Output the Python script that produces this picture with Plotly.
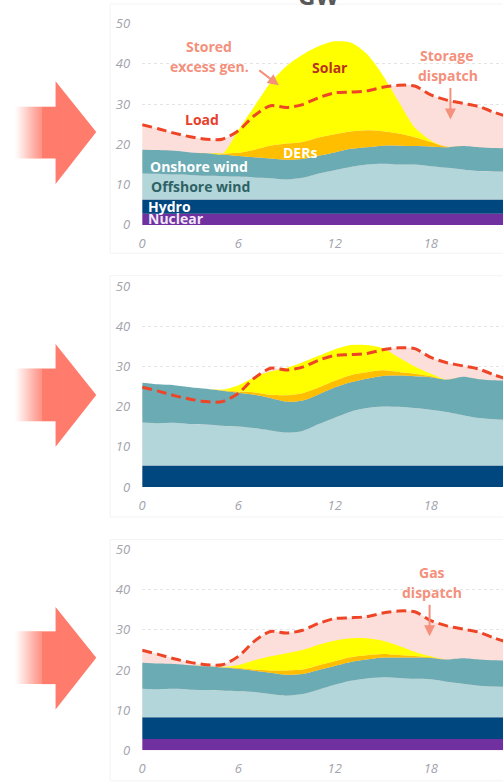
import plotly.graph_objects as go

W, H = 503, 783

hours = list(range(24))
load = [24.9, 23.9, 22.8, 21.9, 21.3, 21.3, 23.4, 27.2, 29.6, 29.2, 29.9, 31.6,
        32.8, 33.0, 33.3, 34.2, 34.7, 34.5, 32.3, 31.0, 30.2, 29.4, 27.9, 26.6]

# Panel 1
nuclear1 = [2.8, 2.8, 2.8, 2.8, 2.8, 2.8, 2.8, 2.8, 2.8, 2.8, 2.8, 2.8,
            2.8, 2.8, 2.8, 2.8, 2.8, 2.8, 2.8, 2.8, 2.8, 2.8, 2.8, 2.8]
hydro1 = [3.5, 3.5, 3.5, 3.5, 3.5, 3.5, 3.5, 3.5, 3.5, 3.5, 3.5, 3.5,
          3.5, 3.5, 3.5, 3.5, 3.5, 3.5, 3.5, 3.5, 3.5, 3.5, 3.5, 3.5]
offshore1 = [6.5, 6.4, 6.2, 6.1, 5.9, 5.8, 5.7, 5.5, 5.3, 5.0, 5.4, 6.5,
             7.3, 8.1, 8.7, 8.9, 8.7, 8.7, 8.3, 7.9, 7.5, 7.1, 7.0, 6.9]
onshore1 = [5.9, 5.9, 5.9, 5.6, 5.6, 5.4, 5.1, 5.0, 4.9, 4.9, 4.7, 4.4,
            4.4, 4.5, 4.3, 4.5, 4.7, 4.6, 4.9, 5.1, 5.8, 5.9, 5.8, 5.8]
der1 = [0, 0, 0, 0, 0, 0.2, 0.8, 1.9, 3.2, 4.0, 4.2, 4.5,
        4.5, 4.3, 4.2, 3.6, 3.0, 2.2, 1.1, 0.1, 0, 0, 0, 0]
solar1 = [0, 0, 0, 0, 0, 0, 5.7, 10.8, 15.6, 19.3, 21.7, 22.7,
          23.1, 22.1, 19.0, 13.9, 7.9, 2.4, 0.4, 0, 0, 0, 0, 0]

# Panel 2
hydro2 = [5.4, 5.4, 5.4, 5.4, 5.4, 5.4, 5.4, 5.4, 5.4, 5.4, 5.4, 5.4,
          5.4, 5.4, 5.4, 5.4, 5.4, 5.4, 5.4, 5.4, 5.4, 5.4, 5.4, 5.4]
offshore2 = [10.7, 10.5, 10.6, 10.3, 10.2, 9.9, 9.7, 9.3, 8.7, 8.2, 8.6, 10.3,
             11.9, 13.4, 14.3, 14.7, 14.6, 14.3, 13.9, 13.3, 12.5, 11.8, 11.5, 11.3]
onshore2 = [9.9, 9.7, 9.4, 9.2, 8.9, 8.7, 8.4, 8.3, 8.1, 7.7, 7.6, 7.4,
            7.5, 7.3, 7.3, 7.6, 7.8, 7.9, 8.1, 8.1, 9.6, 9.7, 9.7, 9.8]
der2 = [0, 0, 0, 0, 0, 0.1, 0.3, 0.6, 0.8, 1.6, 1.8, 1.7,
        1.7, 1.8, 1.6, 1.4, 0.9, 0.65, 0.25, 0, 0, 0, 0, 0]
solar2 = [0, 0, 0, 0, 0, 0.2, 1.6, 3.8, 5.8, 6.8, 7.7, 7.9,
          7.8, 7.5, 6.8, 5.5, 3.6, 1.8, 0.6, 0, 0, 0, 0, 0]

# Panel 3
nuclear3 = [2.8, 2.8, 2.8, 2.8, 2.8, 2.8, 2.8, 2.8, 2.8, 2.8, 2.8, 2.8,
            2.8, 2.8, 2.8, 2.8, 2.8, 2.8, 2.8, 2.8, 2.8, 2.8, 2.8, 2.8]
hydro3 = [5.4, 5.4, 5.4, 5.4, 5.4, 5.4, 5.4, 5.4, 5.4, 5.4, 5.4, 5.4,
          5.4, 5.4, 5.4, 5.4, 5.4, 5.4, 5.4, 5.4, 5.4, 5.4, 5.4, 5.4]
offshore3 = [7.1, 7.0, 7.1, 6.9, 6.8, 6.7, 6.5, 6.3, 5.8, 5.4, 5.8, 6.9,
             8.1, 9.1, 9.7, 10.0, 9.8, 9.6, 9.5, 8.9, 8.4, 7.9, 7.7, 7.6]
onshore3 = [6.5, 6.4, 6.2, 6.1, 5.9, 5.7, 5.6, 5.3, 5.3, 5.2, 5.0, 4.9,
            4.7, 4.7, 4.7, 4.9, 5.1, 5.3, 5.3, 5.5, 6.3, 6.5, 6.5, 6.5]
der3 = [0, 0, 0, 0, 0, 0.1, 0.2, 0.3, 0.6, 1.1, 1.1, 1.2,
        1.2, 1.2, 1.1, 0.9, 0.65, 0.4, 0.15, 0, 0, 0, 0, 0]
solar3 = [0, 0, 0, 0, 0, 0.1, 0.7, 2.3, 3.5, 4.3, 4.9, 5.1,
          5.1, 4.7, 4.2, 3.3, 2.3, 1.0, 0.25, 0, 0, 0, 0, 0]

x_ticks = [0, 6, 12, 18]
y_ticks = [0, 10, 20, 30, 40, 50]

C_NUC = "#7030A0"
C_HYD = "#00467F"
C_OFF = "#B3D6DA"
C_ON = "#6BABB4"
C_DER = "#FFBE00"
C_SOL = "#FFFF00"
C_PINK = "#FCDFDA"
C_LOAD = "#EE4527"
C_SALMON = "#F4907C"
C_ARROW = "#FF7B6B"
FONT = "Open Sans"


def px(x):
    return x / W


def py(y):
    return 1 - y / H


panels = [
    ("1", [("Nuclear", nuclear1, C_NUC), ("Hydro", hydro1, C_HYD),
           ("Offshore wind", offshore1, C_OFF), ("Onshore wind", onshore1, C_ON),
           ("DERs", der1, C_DER), ("Solar", solar1, C_SOL)], (15, 221)),
    ("2", [("Hydro", hydro2, C_HYD),
           ("Offshore wind", offshore2, C_OFF), ("Onshore wind", onshore2, C_ON),
           ("DERs", der2, C_DER), ("Solar", solar2, C_SOL)], (284, 489.3)),
    ("3", [("Nuclear", nuclear3, C_NUC), ("Hydro", hydro3, C_HYD),
           ("Offshore wind", offshore3, C_OFF), ("Onshore wind", onshore3, C_ON),
           ("DERs", der3, C_DER), ("Solar", solar3, C_SOL)], (553.3, 758.7)),
]

fig = go.Figure()
layout_axes = {}
for idx, (k, layers, (ytop, ybot)) in enumerate(panels):
    xa = "x" if k == "1" else "x" + k
    ya = "y" if k == "1" else "y" + k
    fig.add_trace(go.Scatter(x=hours, y=load, xaxis=xa, yaxis=ya, mode="lines",
                             fill="tozeroy", fillcolor=C_PINK,
                             line=dict(width=0, shape="spline", smoothing=0.8),
                             hoverinfo="skip"))
    for name, vals, col in layers:
        fig.add_trace(go.Scatter(x=hours, y=vals, xaxis=xa, yaxis=ya, name=name,
                                 mode="lines", stackgroup="s" + k, fillcolor=col,
                                 line=dict(width=0, color=col, shape="spline", smoothing=0.8)))
    fig.add_trace(go.Scatter(x=hours, y=load, xaxis=xa, yaxis=ya, mode="lines",
                             line=dict(color=C_LOAD, width=3, dash="10px,5px",
                                       shape="spline", smoothing=0.8)))
    xname = "xaxis" if k == "1" else "xaxis" + k
    yname = "yaxis" if k == "1" else "yaxis" + k
    layout_axes[xname] = dict(
        domain=[px(139.3), 1], range=[0, 22.5], anchor=ya,
        tickvals=x_ticks, showgrid=False, zeroline=False, showline=False,
        ticklabelstandoff=9,
        tickfont=dict(family=FONT, size=13, color="#A3A3AD", style="italic"))
    layout_axes[yname] = dict(
        domain=[py(ybot), py(ytop)], range=[0, 50], anchor=xa,
        tickvals=y_ticks, showgrid=True, gridcolor="#E4E4E4", griddash="dot",
        gridwidth=1, zeroline=False, showline=False, ticklabelstandoff=11,
        tickfont=dict(family=FONT, size=13, color="#A3A3AD", style="italic"))

shapes = []
# faint panel frames
for (t, b) in [(-5, 250), (273, 520), (543, 790)]:
    shapes.append(dict(type="rect", xref="paper", yref="paper",
                       x0=px(107), x1=px(510), y0=py(b), y1=py(t),
                       line=dict(color="#F3F3F3", width=1), layer="below"))

# big arrows with faded tails
for (tip_y, head_top, head_bot, sh_top, sh_bot) in [
        (126, 74, 179, 100, 153), (395, 343, 448, 368, 422), (664, 612, 717, 637, 691)]:
    shapes.append(dict(type="path", xref="paper", yref="paper",
                       path=f"M {px(52)},{py(head_top)} L {px(93)},{py(tip_y)} L {px(52)},{py(head_bot)} Z",
                       fillcolor=C_ARROW, line=dict(width=0)))
    shapes.append(dict(type="rect", xref="paper", yref="paper",
                       x0=px(38), x1=px(52.5), y0=py(sh_bot), y1=py(sh_top),
                       fillcolor=C_ARROW, line=dict(width=0)))
    n = 28
    for i in range(n):
        x0 = 10 + i
        shapes.append(dict(type="rect", xref="paper", yref="paper",
                           x0=px(x0), x1=px(x0 + 1.05), y0=py(sh_bot), y1=py(sh_top),
                           fillcolor=C_ARROW, opacity=((i + 0.5) / n) ** 1.3,
                           line=dict(width=0)))


def label(text, x, y, color, size=14, bold=True):
    return dict(text=f"<b>{text}</b>" if bold else text, x=px(x), y=py(y),
                xref="paper", yref="paper", showarrow=False,
                xanchor="center", yanchor="middle",
                font=dict(family=FONT, size=size, color=color))


def arrow(x_head, y_head, x_tail, y_tail):
    return dict(text="", x=px(x_head), y=py(y_head), xref="paper", yref="paper",
                showarrow=True, ax=x_tail - x_head, ay=y_tail - y_head,
                arrowcolor=C_SALMON, arrowwidth=2, arrowhead=2, arrowsize=1.1)


annotations = [
    dict(text="<b>GW</b>", x=px(317), y=py(5), xref="paper", yref="paper",
         showarrow=False, xanchor="center", yanchor="bottom",
         font=dict(family=FONT, size=24, color="#595959")),
    label("Stored", 207, 38, C_SALMON),
    label("excess gen.", 207, 59, C_SALMON),
    arrow(277, 78, 256, 62),
    label("Load", 200, 113, "#E8402A"),
    label("Solar", 329, 60, "#B8321F"),
    label("DERs", 298, 147, "white"),
    label("Onshore wind", 197, 161, "white"),
    label("Offshore wind", 198, 182, "#2E6264"),
    label("Hydro", 167, 202, "white"),
    label("Nuclear", 173, 214, "#F2E8F8"),
    label("Storage", 446, 48, C_SALMON),
    label("dispatch", 448, 68, C_SALMON),
    arrow(450, 113, 450, 80),
    label("Gas", 431, 577, C_SALMON),
    label("dispatch", 431, 597, C_SALMON),
    arrow(429, 642, 429, 609),
]

fig.update_layout(width=W, height=H, margin=dict(l=0, r=0, t=0, b=0),
                  paper_bgcolor="white", plot_bgcolor="white", showlegend=False,
                  hovermode=False,
                  shapes=shapes, annotations=annotations, **layout_axes)

fig.write_html("out.html",
               config={"displayModeBar": False, "staticPlot": True},
               post_script="document.body.style.margin='0px';"
                           "document.body.style.overflow='hidden';")
